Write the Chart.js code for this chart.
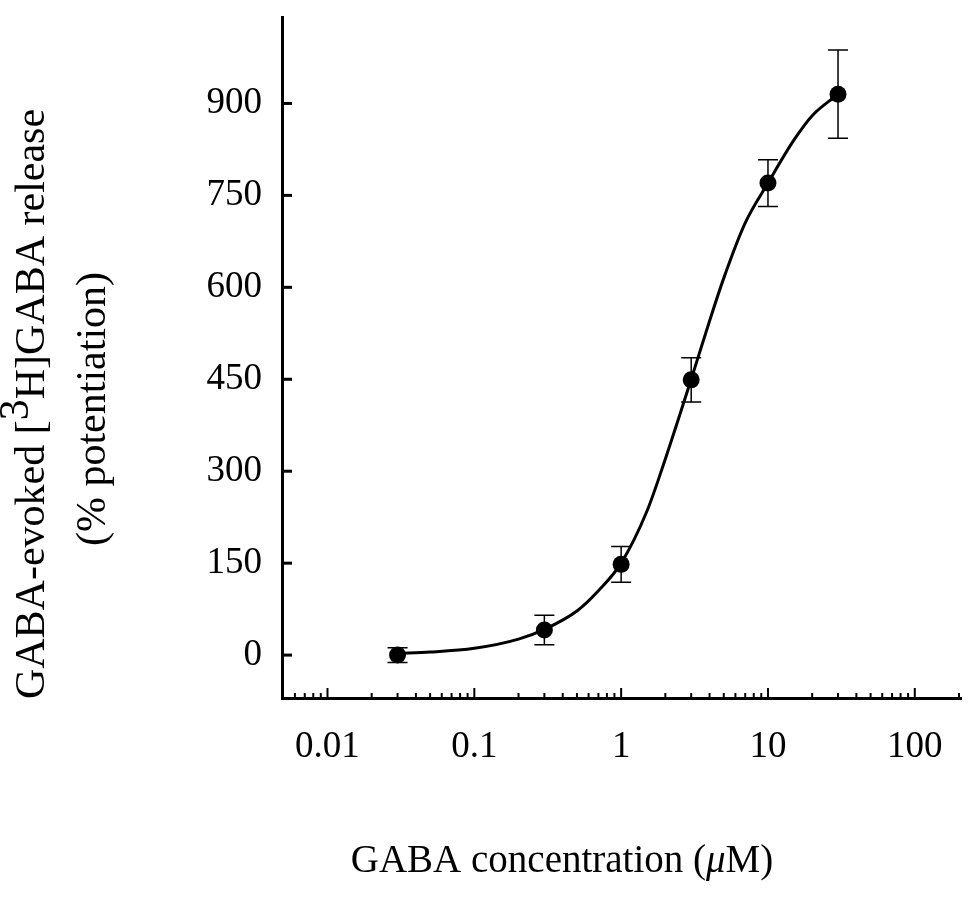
<!DOCTYPE html>
<html>
<head>
<meta charset="utf-8">
<script src="https://cdn.jsdelivr.net/npm/chart.js@4.4.0/dist/chart.umd.min.js"></script>
<style>
  html, body { margin: 0; padding: 0; background: #fff; }
</style>
</head>
<body>
<canvas id="chart" width="970" height="900"></canvas>
<script>
// measured points (mean +/- SEM)
const concentrations = [0.03, 0.3, 1, 3, 10, 30];
const potentiation = [0, 41, 148, 449, 770, 915];
const errors = [12, 24, 29, 36, 38, 72];

// fitted curve
const curveX = [0.03, 0.05, 0.1, 0.2, 0.3, 0.5, 0.7, 1, 1.5, 2, 3, 4, 5, 7, 10, 15, 20, 30];
const curveY = [3, 5, 11, 26, 42, 72, 105, 150, 235, 320, 450, 545, 615, 705, 770, 840, 880, 915];

// axis ticks
const yTicks = [0, 150, 300, 450, 600, 750, 900];
const xLabels = [0.01, 0.1, 1, 10, 100];
const xTicks = [
  0.006, 0.007, 0.008, 0.009,
  0.01, 0.02, 0.03, 0.04, 0.05, 0.06, 0.07, 0.08, 0.09,
  0.1, 0.2, 0.3, 0.4, 0.5, 0.6, 0.7, 0.8, 0.9,
  1, 2, 3, 4, 5, 6, 7, 8, 9,
  10, 20, 30, 40, 50, 60, 70, 80, 90,
  100, 200
];

const serif = '"Liberation Serif", "Times New Roman", serif';

// draws a row of text pieces centred on cx
function drawRuns(ctx, runs, cx, baseY) {
  let total = 0;
  runs.forEach(r => {
    ctx.font = r.font;
    r.w = ctx.measureText(r.text).width;
    total += r.w;
  });
  let x = cx - total / 2;
  runs.forEach(r => {
    ctx.font = r.font;
    ctx.fillText(r.text, x, baseY + (r.dy || 0));
    x += r.w;
  });
}

const errorBars = {
  id: 'errorBars',
  afterDatasetsDraw(chart) {
    const { ctx, scales: { x, y } } = chart;
    ctx.save();
    ctx.strokeStyle = '#000';
    ctx.lineWidth = 1.5;
    concentrations.forEach((c, i) => {
      const px = x.getPixelForValue(c);
      const top = y.getPixelForValue(potentiation[i] + errors[i]);
      const bot = y.getPixelForValue(potentiation[i] - errors[i]);
      ctx.beginPath();
      ctx.moveTo(px, top); ctx.lineTo(px, bot);
      ctx.moveTo(px - 10, top); ctx.lineTo(px + 10, top);
      ctx.moveTo(px - 10, bot); ctx.lineTo(px + 10, bot);
      ctx.stroke();
    });
    ctx.restore();
  }
};

const axisDecor = {
  id: 'axisDecor',
  afterDraw(chart) {
    const { ctx, chartArea, scales: { x, y } } = chart;
    ctx.save();
    ctx.strokeStyle = '#000';
    ctx.fillStyle = '#000';

    // tick marks point into the plot
    ctx.lineWidth = 3;
    yTicks.forEach(v => {
      const py = y.getPixelForValue(v);
      ctx.beginPath();
      ctx.moveTo(chartArea.left, py);
      ctx.lineTo(chartArea.left + 10, py);
      ctx.stroke();
    });
    ctx.lineWidth = 2;
    xTicks.forEach(v => {
      const px = x.getPixelForValue(v);
      const len = xLabels.includes(v) ? 10 : 5;
      ctx.beginPath();
      ctx.moveTo(px, chartArea.bottom);
      ctx.lineTo(px, chartArea.bottom - len);
      ctx.stroke();
    });

    // axis titles
    ctx.textBaseline = 'alphabetic';
    const fx = '39px ' + serif;
    drawRuns(ctx, [
      { text: 'GABA concentration (', font: fx },
      { text: '\u03bc', font: 'italic ' + fx },
      { text: 'M)', font: fx }
    ], 562, 872);

    const fy = '42px ' + serif;
    ctx.save();
    ctx.translate(44, 404);
    ctx.rotate(-Math.PI / 2);
    drawRuns(ctx, [
      { text: 'GABA-evoked [', font: fy },
      { text: '3', font: fy, dy: -16 },
      { text: 'H]GABA release', font: fy }
    ], 0, 0);
    ctx.restore();

    ctx.translate(105, 409);
    ctx.rotate(-Math.PI / 2);
    drawRuns(ctx, [{ text: '(% potentiation)', font: fy }], 0, 0);
    ctx.restore();
  }
};

new Chart(document.getElementById('chart'), {
  type: 'scatter',
  data: {
    datasets: [
      {
        label: 'GABA',
        data: concentrations.map((c, i) => ({ x: c, y: potentiation[i] })),
        pointRadius: 8.5,
        pointHoverRadius: 8.5,
        backgroundColor: '#000',
        borderColor: '#000',
        borderWidth: 0
      },
      {
        label: 'fit',
        data: curveX.map((c, i) => ({ x: c, y: curveY[i] })),
        showLine: true,
        pointRadius: 0,
        borderColor: '#000',
        borderWidth: 3,
        cubicInterpolationMode: 'monotone',
        fill: false
      }
    ]
  },
  options: {
    responsive: false,
    animation: false,
    layout: { padding: { left: 0, top: 17, right: 5, bottom: 0 } },
    plugins: {
      legend: { display: false },
      tooltip: { enabled: false }
    },
    scales: {
      x: {
        type: 'logarithmic',
        min: 0.0049,
        max: 208,
        grid: { display: false, drawTicks: false },
        border: { display: true, color: '#000', width: 3 },
        afterBuildTicks: scale => {
          scale.ticks = xTicks.map(v => ({ value: v }));
        },
        afterFit: scale => {
          scale.height = 202;
          scale.paddingLeft = 0;
          scale.paddingRight = 0;
        },
        ticks: {
          autoSkip: false,
          maxRotation: 0,
          padding: 27,
          color: '#000',
          font: { family: serif, size: 37 },
          callback: v => (xLabels.includes(v) ? String(v) : '')
        }
      },
      y: {
        type: 'linear',
        min: -70,
        max: 1041,
        grid: { display: false, drawTicks: false },
        border: { display: true, color: '#000', width: 3 },
        afterBuildTicks: scale => {
          scale.ticks = yTicks.map(v => ({ value: v }));
        },
        afterFit: scale => {
          scale.width = 282;
          scale.paddingTop = 0;
          scale.paddingBottom = 0;
        },
        ticks: {
          padding: 20,
          color: '#000',
          font: { family: serif, size: 37 },
          callback: v => String(v)
        }
      }
    }
  },
  plugins: [errorBars, axisDecor]
});
</script>
</body>
</html>
